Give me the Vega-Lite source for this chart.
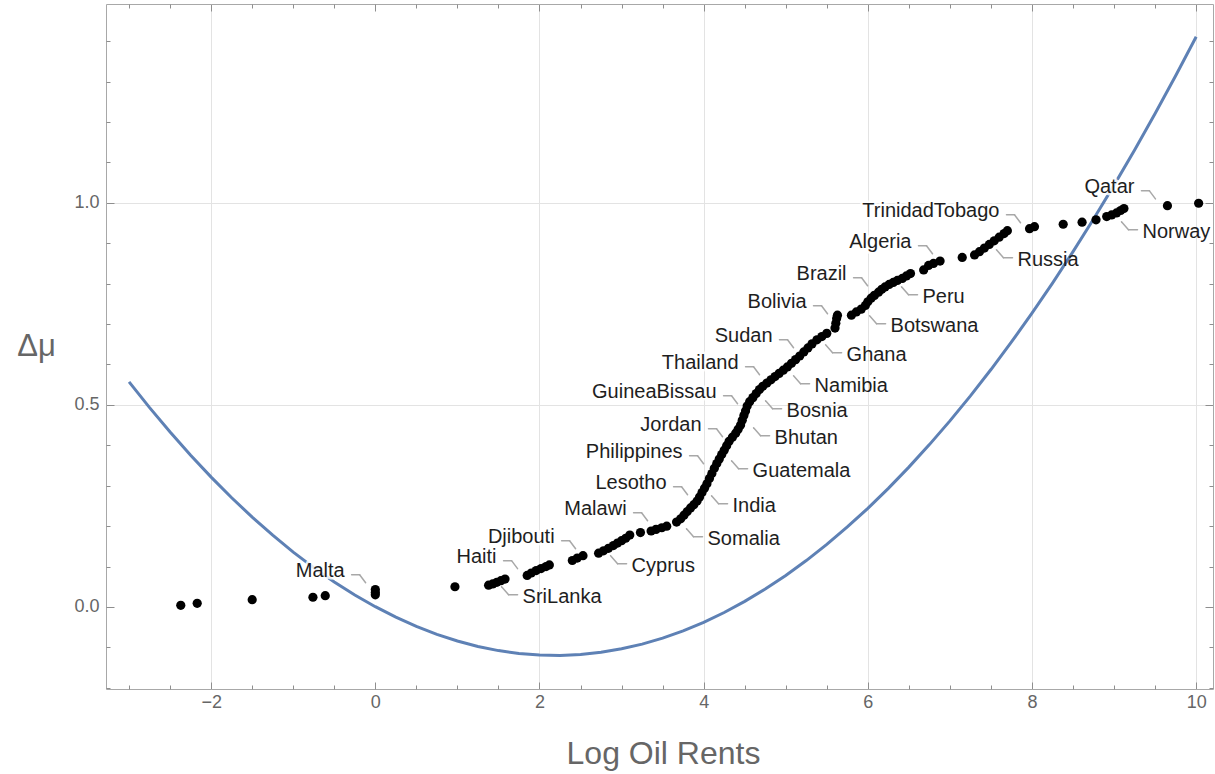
{
  "$schema": "https://vega.github.io/schema/vega-lite/v6.json",
  "width": 1107,
  "height": 685,
  "autosize": {"type": "none"},
  "padding": {"left": 106, "top": 4, "right": 2, "bottom": 85},
  "background": "white",
  "config": {
    "view": {"stroke": "#A8A8A8", "strokeWidth": 1},
    "font": "Liberation Sans",
    "axis": {"domain": false, "tickColor": "#8E8E8E", "tickWidth": 1, "labelFont": "Liberation Sans", "titleFont": "Liberation Sans", "labelOverlap": false, "labelFlush": false}
  },
  "datasets": {
    "pts": [
      {"x": -2.37, "y": 0.004}, {"x": -2.17, "y": 0.009}, {"x": -1.50, "y": 0.018}, {"x": -0.76, "y": 0.024}, {"x": -0.61, "y": 0.028},
      {"x": 0, "y": 0.030}, {"x": 0, "y": 0.036}, {"x": 0, "y": 0.043}, {"x": 0.97, "y": 0.050},
      {"x": 1.38, "y": 0.054}, {"x": 1.43, "y": 0.057}, {"x": 1.48, "y": 0.061}, {"x": 1.53, "y": 0.065}, {"x": 1.58, "y": 0.069},
      {"x": 1.85, "y": 0.078}, {"x": 1.90, "y": 0.084}, {"x": 1.96, "y": 0.090}, {"x": 2.02, "y": 0.095}, {"x": 2.08, "y": 0.100}, {"x": 2.12, "y": 0.104},
      {"x": 2.40, "y": 0.115}, {"x": 2.46, "y": 0.121}, {"x": 2.53, "y": 0.127},
      {"x": 2.72, "y": 0.133}, {"x": 2.78, "y": 0.139}, {"x": 2.84, "y": 0.145}, {"x": 2.90, "y": 0.152}, {"x": 2.95, "y": 0.158}, {"x": 3.00, "y": 0.164}, {"x": 3.05, "y": 0.170}, {"x": 3.10, "y": 0.178},
      {"x": 3.23, "y": 0.184}, {"x": 3.36, "y": 0.188}, {"x": 3.42, "y": 0.192}, {"x": 3.49, "y": 0.196}, {"x": 3.55, "y": 0.200},
      {"x": 3.67, "y": 0.210}, {"x": 3.72, "y": 0.218}, {"x": 3.76, "y": 0.227}, {"x": 3.80, "y": 0.236}, {"x": 3.84, "y": 0.245}, {"x": 3.88, "y": 0.253},
      {"x": 3.92, "y": 0.262}, {"x": 3.95, "y": 0.272}, {"x": 3.98, "y": 0.283}, {"x": 4.01, "y": 0.294}, {"x": 4.04, "y": 0.305}, {"x": 4.07, "y": 0.318},
      {"x": 4.10, "y": 0.330}, {"x": 4.13, "y": 0.343}, {"x": 4.16, "y": 0.355}, {"x": 4.19, "y": 0.366}, {"x": 4.22, "y": 0.377}, {"x": 4.25, "y": 0.388},
      {"x": 4.28, "y": 0.399}, {"x": 4.31, "y": 0.410}, {"x": 4.35, "y": 0.420}, {"x": 4.39, "y": 0.430}, {"x": 4.42, "y": 0.440}, {"x": 4.45, "y": 0.450},
      {"x": 4.47, "y": 0.462}, {"x": 4.49, "y": 0.474}, {"x": 4.51, "y": 0.485}, {"x": 4.53, "y": 0.497}, {"x": 4.56, "y": 0.508}, {"x": 4.60, "y": 0.518},
      {"x": 4.64, "y": 0.528}, {"x": 4.68, "y": 0.538}, {"x": 4.72, "y": 0.546}, {"x": 4.77, "y": 0.554}, {"x": 4.82, "y": 0.562}, {"x": 4.87, "y": 0.570},
      {"x": 4.92, "y": 0.578}, {"x": 4.97, "y": 0.586}, {"x": 5.02, "y": 0.594}, {"x": 5.07, "y": 0.603}, {"x": 5.12, "y": 0.612}, {"x": 5.17, "y": 0.621},
      {"x": 5.22, "y": 0.631}, {"x": 5.27, "y": 0.641}, {"x": 5.32, "y": 0.651}, {"x": 5.38, "y": 0.661}, {"x": 5.44, "y": 0.669}, {"x": 5.50, "y": 0.677},
      {"x": 5.60, "y": 0.690}, {"x": 5.61, "y": 0.702}, {"x": 5.62, "y": 0.714}, {"x": 5.63, "y": 0.722},
      {"x": 5.80, "y": 0.722}, {"x": 5.86, "y": 0.730}, {"x": 5.92, "y": 0.737}, {"x": 5.97, "y": 0.746}, {"x": 6.00, "y": 0.755}, {"x": 6.04, "y": 0.764},
      {"x": 6.08, "y": 0.771}, {"x": 6.13, "y": 0.779}, {"x": 6.17, "y": 0.786}, {"x": 6.21, "y": 0.792}, {"x": 6.26, "y": 0.798}, {"x": 6.31, "y": 0.803},
      {"x": 6.36, "y": 0.808}, {"x": 6.42, "y": 0.813}, {"x": 6.47, "y": 0.819}, {"x": 6.52, "y": 0.825},
      {"x": 6.68, "y": 0.834}, {"x": 6.74, "y": 0.845}, {"x": 6.80, "y": 0.850}, {"x": 6.88, "y": 0.856}, {"x": 7.15, "y": 0.865},
      {"x": 7.30, "y": 0.871}, {"x": 7.36, "y": 0.879}, {"x": 7.42, "y": 0.888}, {"x": 7.48, "y": 0.897}, {"x": 7.54, "y": 0.906}, {"x": 7.60, "y": 0.915},
      {"x": 7.66, "y": 0.924}, {"x": 7.70, "y": 0.931}, {"x": 7.97, "y": 0.936}, {"x": 8.03, "y": 0.941}, {"x": 8.38, "y": 0.947}, {"x": 8.61, "y": 0.952},
      {"x": 8.78, "y": 0.958}, {"x": 8.91, "y": 0.966}, {"x": 8.97, "y": 0.970}, {"x": 9.03, "y": 0.975}, {"x": 9.08, "y": 0.981}, {"x": 9.12, "y": 0.986},
      {"x": 9.65, "y": 0.993}, {"x": 10.03, "y": 0.999}
    ],
    "curve": [
      {"x": -3, "y": 0.5569}, {"x": -2.75, "y": 0.4933}, {"x": -2.5, "y": 0.4328}, {"x": -2.25, "y": 0.3755}, {"x": -2, "y": 0.3213},
      {"x": -1.75, "y": 0.2702}, {"x": -1.5, "y": 0.2223}, {"x": -1.25, "y": 0.1775}, {"x": -1, "y": 0.1358}, {"x": -0.75, "y": 0.0973},
      {"x": -0.5, "y": 0.0620}, {"x": -0.25, "y": 0.0297}, {"x": 0, "y": 0.0007}, {"x": 0.25, "y": -0.0253}, {"x": 0.5, "y": -0.0481},
      {"x": 0.75, "y": -0.0678}, {"x": 1, "y": -0.0843}, {"x": 1.25, "y": -0.0977}, {"x": 1.5, "y": -0.1080}, {"x": 1.75, "y": -0.1151},
      {"x": 2, "y": -0.1191}, {"x": 2.25, "y": -0.1199}, {"x": 2.5, "y": -0.1176}, {"x": 2.75, "y": -0.1122}, {"x": 3, "y": -0.1036},
      {"x": 3.25, "y": -0.0919}, {"x": 3.5, "y": -0.0770}, {"x": 3.75, "y": -0.0590}, {"x": 4, "y": -0.0379}, {"x": 4.25, "y": -0.0137},
      {"x": 4.5, "y": 0.0138}, {"x": 4.75, "y": 0.0443}, {"x": 5, "y": 0.0780}, {"x": 5.25, "y": 0.1148}, {"x": 5.5, "y": 0.1548},
      {"x": 5.75, "y": 0.1979}, {"x": 6, "y": 0.2441}, {"x": 6.25, "y": 0.2935}, {"x": 6.5, "y": 0.3460}, {"x": 6.75, "y": 0.4017},
      {"x": 7, "y": 0.4605}, {"x": 7.25, "y": 0.5224}, {"x": 7.5, "y": 0.5875}, {"x": 7.75, "y": 0.6557}, {"x": 8, "y": 0.7270},
      {"x": 8.25, "y": 0.8015}, {"x": 8.5, "y": 0.8792}, {"x": 8.75, "y": 0.9599}, {"x": 9, "y": 1.0438}, {"x": 9.25, "y": 1.1309},
      {"x": 9.5, "y": 1.2210}, {"x": 9.75, "y": 1.3144}, {"x": 10, "y": 1.4108}
    ],
    "labels": [
      {"name": "Malta", "lx": -0.374, "ly": 0.0749, "side": "L"},
      {"name": "Haiti", "lx": 1.477, "ly": 0.1096, "side": "L"},
      {"name": "Djibouti", "lx": 2.184, "ly": 0.159, "side": "L"},
      {"name": "Malawi", "lx": 3.061, "ly": 0.2283, "side": "L"},
      {"name": "Lesotho", "lx": 3.548, "ly": 0.2926, "side": "L"},
      {"name": "Philippines", "lx": 3.743, "ly": 0.3693, "side": "L"},
      {"name": "Jordan", "lx": 3.974, "ly": 0.4361, "side": "L"},
      {"name": "GuineaBissau", "lx": 4.157, "ly": 0.5177, "side": "L"},
      {"name": "Thailand", "lx": 4.425, "ly": 0.5894, "side": "L"},
      {"name": "Sudan", "lx": 4.839, "ly": 0.6562, "side": "L"},
      {"name": "Bolivia", "lx": 5.253, "ly": 0.7403, "side": "L"},
      {"name": "Brazil", "lx": 5.741, "ly": 0.8095, "side": "L"},
      {"name": "Algeria", "lx": 6.532, "ly": 0.8887, "side": "L"},
      {"name": "TrinidadTobago", "lx": 7.604, "ly": 0.9654, "side": "L"},
      {"name": "Qatar", "lx": 9.248, "ly": 1.0247, "side": "L"},
      {"name": "SriLanka", "lx": 1.794, "ly": 0.0106, "side": "R"},
      {"name": "Cyprus", "lx": 3.122, "ly": 0.0873, "side": "R"},
      {"name": "Somalia", "lx": 4.047, "ly": 0.1541, "side": "R"},
      {"name": "India", "lx": 4.352, "ly": 0.2357, "side": "R"},
      {"name": "Guatemala", "lx": 4.596, "ly": 0.3223, "side": "R"},
      {"name": "Bhutan", "lx": 4.864, "ly": 0.4039, "side": "R"},
      {"name": "Bosnia", "lx": 5.010, "ly": 0.4707, "side": "R"},
      {"name": "Namibia", "lx": 5.351, "ly": 0.5325, "side": "R"},
      {"name": "Ghana", "lx": 5.741, "ly": 0.6092, "side": "R"},
      {"name": "Botswana", "lx": 6.277, "ly": 0.6809, "side": "R"},
      {"name": "Peru", "lx": 6.666, "ly": 0.7527, "side": "R"},
      {"name": "Russia", "lx": 7.823, "ly": 0.8442, "side": "R"},
      {"name": "Norway", "lx": 9.346, "ly": 0.9134, "side": "R"}
    ]
  },
  "resolve": {"axis": {"x": "independent", "y": "independent"}},
  "layer": [
    {
      "mark": {"type": "rule", "color": "#8C8C8C", "strokeWidth": 1},
      "encoding": {"x": {"datum": 0, "type": "quantitative", "scale": {"domain": [-3.281, 10.205], "zero": false, "nice": false},
        "axis": {"orient": "bottom", "values": [-2, 2, 4, 6, 8, 10], "grid": true, "gridColor": "#E3E3E3", "gridWidth": 1, "ticks": false, "labels": false, "title": null}}}
    },
    {
      "mark": {"type": "rule", "color": "#8C8C8C", "strokeWidth": 1},
      "encoding": {"y": {"datum": 0, "type": "quantitative", "scale": {"domain": [-0.203, 1.492], "zero": false, "nice": false},
        "axis": {"orient": "left", "values": [0.5, 1.0], "grid": true, "gridColor": "#E3E3E3", "gridWidth": 1, "ticks": false, "labels": false, "title": null}}}
    },
    {
      "data": {"name": "curve"},
      "mark": {"type": "line", "color": "#5E81B5", "strokeWidth": 3, "opacity": 0},
      "encoding": {
        "x": {"field": "x", "type": "quantitative", "scale": {"domain": [-3.281, 10.205], "zero": false, "nice": false},
          "axis": {"orient": "bottom", "offset": -7, "values": [-2, 0, 2, 4, 6, 8, 10], "tickSize": 7, "labelPadding": 4, "labelFontSize": 18, "labelColor": "#666666",
            "grid": false, "title": "Log Oil Rents", "titleFontSize": 32, "titleFontWeight": "normal", "titleColor": "#666666",
            "titleY": 81, "titleX": 557, "titleBaseline": "alphabetic"}},
        "y": {"field": "y", "type": "quantitative", "scale": {"domain": [-0.203, 1.492], "zero": false, "nice": false},
          "axis": {"orient": "left", "offset": -8, "values": [0, 0.5, 1.0], "format": ".1f", "tickSize": 8, "labelPadding": 7, "labelFontSize": 18, "labelColor": "#666666",
            "grid": false, "title": "Δμ", "titleAngle": 0, "titleX": -78, "titleY": 351, "titleAlign": "center",
            "titleBaseline": "alphabetic", "titleFontSize": 31, "titleFontWeight": "normal", "titleColor": "#666666"}}
      }
    },
    {
      "data": {"name": "curve"},
      "mark": {"type": "line", "color": "#5E81B5", "strokeWidth": 3},
      "encoding": {
        "x": {"field": "x", "type": "quantitative", "scale": {"domain": [-3.281, 10.205], "zero": false, "nice": false},
          "axis": {"orient": "bottom", "offset": -4, "values": [-3, -2.5, -1.5, -1, -0.5, 0.5, 1, 1.5, 2.5, 3, 3.5, 4.5, 5, 5.5, 6.5, 7, 7.5, 8.5, 9, 9.5], "tickSize": 4, "labels": false, "grid": false, "title": null}},
        "y": {"field": "y", "type": "quantitative", "scale": {"domain": [-0.203, 1.492], "zero": false, "nice": false},
          "axis": {"orient": "left", "offset": -4, "values": [-0.2, -0.1, 0.1, 0.2, 0.3, 0.4, 0.6, 0.7, 0.8, 0.9, 1.1, 1.2, 1.3, 1.4], "tickSize": 4, "labels": false, "grid": false, "title": null}}
      }
    },
    {
      "data": {"name": "labels"},
      "transform": [{"filter": "datum.side === 'L'"}],
      "mark": {"type": "rule", "color": "#A8A8A8", "strokeWidth": 1.5, "strokeCap": "round", "xOffset": 7, "x2Offset": 15, "yOffset": -2, "y2Offset": -2},
      "encoding": {
        "x": {"field": "lx", "type": "quantitative", "scale": {"domain": [-3.281, 10.205], "zero": false, "nice": false},
          "axis": {"orient": "top", "offset": -7, "values": [-2, 0, 2, 4, 6, 8, 10], "tickSize": 7, "labels": false, "grid": false, "title": null}},
        "x2": {"field": "lx"},
        "y": {"field": "ly", "type": "quantitative", "scale": {"domain": [-0.203, 1.492], "zero": false, "nice": false},
          "axis": {"orient": "right", "offset": -8, "values": [0, 0.5, 1.0], "tickSize": 8, "labels": false, "grid": false, "title": null}},
        "y2": {"field": "ly"}
      }
    },
    {
      "data": {"name": "labels"},
      "transform": [{"filter": "datum.side === 'L'"}],
      "mark": {"type": "rule", "color": "#A8A8A8", "strokeWidth": 1.5, "strokeCap": "round", "xOffset": 15, "x2Offset": 21, "yOffset": -2, "y2Offset": 6},
      "encoding": {
        "x": {"field": "lx", "type": "quantitative", "scale": {"domain": [-3.281, 10.205], "zero": false, "nice": false},
          "axis": {"orient": "top", "offset": -4, "values": [-3, -2.5, -1.5, -1, -0.5, 0.5, 1, 1.5, 2.5, 3, 3.5, 4.5, 5, 5.5, 6.5, 7, 7.5, 8.5, 9, 9.5], "tickSize": 4, "labels": false, "grid": false, "title": null}},
        "x2": {"field": "lx"},
        "y": {"field": "ly", "type": "quantitative", "scale": {"domain": [-0.203, 1.492], "zero": false, "nice": false},
          "axis": {"orient": "right", "offset": -4, "values": [-0.2, -0.1, 0.1, 0.2, 0.3, 0.4, 0.6, 0.7, 0.8, 0.9, 1.1, 1.2, 1.3, 1.4], "tickSize": 4, "labels": false, "grid": false, "title": null}},
        "y2": {"field": "ly"}
      }
    },
    {
      "data": {"name": "labels"},
      "transform": [{"filter": "datum.side === 'R'"}],
      "mark": {"type": "rule", "color": "#A8A8A8", "strokeWidth": 1.5, "strokeCap": "round", "xOffset": -21, "x2Offset": -14, "yOffset": -16, "y2Offset": -8},
      "encoding": {
        "x": {"field": "lx", "type": "quantitative", "scale": {"domain": [-3.281, 10.205], "zero": false, "nice": false}, "axis": null},
        "x2": {"field": "lx"},
        "y": {"field": "ly", "type": "quantitative", "scale": {"domain": [-0.203, 1.492], "zero": false, "nice": false}, "axis": null},
        "y2": {"field": "ly"}
      }
    },
    {
      "data": {"name": "labels"},
      "transform": [{"filter": "datum.side === 'R'"}],
      "mark": {"type": "rule", "color": "#A8A8A8", "strokeWidth": 1.5, "strokeCap": "round", "xOffset": -14, "x2Offset": -5, "yOffset": -8, "y2Offset": -8},
      "encoding": {
        "x": {"field": "lx", "type": "quantitative", "scale": {"domain": [-3.281, 10.205], "zero": false, "nice": false}, "axis": null},
        "x2": {"field": "lx"},
        "y": {"field": "ly", "type": "quantitative", "scale": {"domain": [-0.203, 1.492], "zero": false, "nice": false}, "axis": null},
        "y2": {"field": "ly"}
      }
    },
    {
      "data": {"name": "pts"},
      "mark": {"type": "circle", "color": "#000000", "size": 85, "opacity": 1},
      "encoding": {
        "x": {"field": "x", "type": "quantitative", "scale": {"domain": [-3.281, 10.205], "zero": false, "nice": false}, "axis": null},
        "y": {"field": "y", "type": "quantitative", "scale": {"domain": [-0.203, 1.492], "zero": false, "nice": false}, "axis": null}
      }
    },
    {
      "data": {"name": "labels"},
      "transform": [{"filter": "datum.side === 'L'"}],
      "mark": {"type": "text", "align": "right", "baseline": "alphabetic", "fontSize": 20, "font": "Liberation Sans", "fill": "white", "stroke": "white", "strokeWidth": 5, "strokeJoin": "round", "opacity": 0.85},
      "encoding": {
        "x": {"field": "lx", "type": "quantitative", "scale": {"domain": [-3.281, 10.205], "zero": false, "nice": false}, "axis": null},
        "y": {"field": "ly", "type": "quantitative", "scale": {"domain": [-0.203, 1.492], "zero": false, "nice": false}, "axis": null},
        "text": {"field": "name"}
      }
    },
    {
      "data": {"name": "labels"},
      "transform": [{"filter": "datum.side === 'L'"}],
      "mark": {"type": "text", "align": "right", "baseline": "alphabetic", "fontSize": 20, "font": "Liberation Sans", "color": "#1E1E1E"},
      "encoding": {
        "x": {"field": "lx", "type": "quantitative", "scale": {"domain": [-3.281, 10.205], "zero": false, "nice": false}, "axis": null},
        "y": {"field": "ly", "type": "quantitative", "scale": {"domain": [-0.203, 1.492], "zero": false, "nice": false}, "axis": null},
        "text": {"field": "name"}
      }
    },
    {
      "data": {"name": "labels"},
      "transform": [{"filter": "datum.side === 'R'"}],
      "mark": {"type": "text", "align": "left", "baseline": "alphabetic", "fontSize": 20, "font": "Liberation Sans", "color": "#1E1E1E"},
      "encoding": {
        "x": {"field": "lx", "type": "quantitative", "scale": {"domain": [-3.281, 10.205], "zero": false, "nice": false}, "axis": null},
        "y": {"field": "ly", "type": "quantitative", "scale": {"domain": [-0.203, 1.492], "zero": false, "nice": false}, "axis": null},
        "text": {"field": "name"}
      }
    }
  ]
}
